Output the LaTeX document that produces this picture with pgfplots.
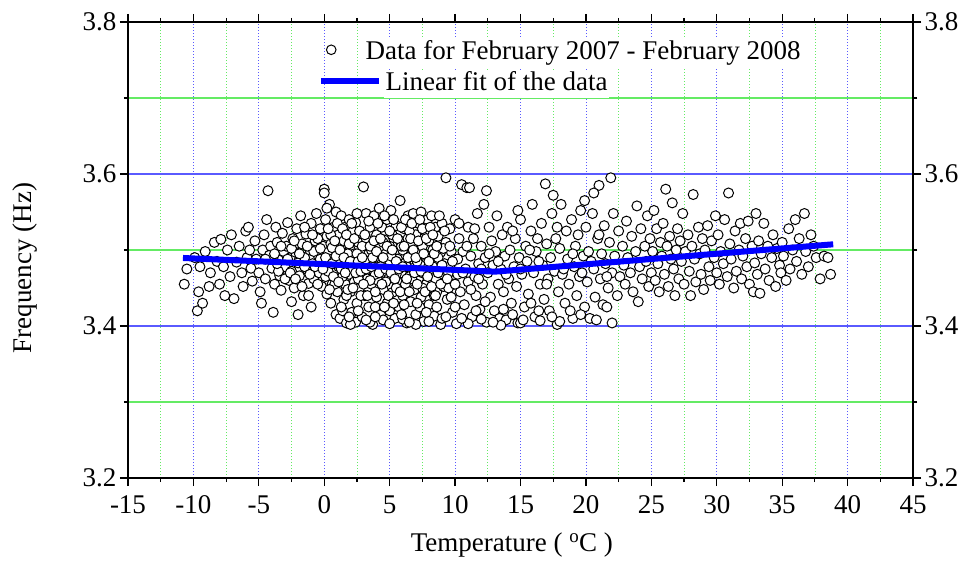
\documentclass[border=0pt]{standalone}
\usepackage{pgfplots}
\pgfplotsset{compat=1.18}
\usepackage{fontspec}
\setmainfont{Liberation Serif}
\definecolor{gridgreen}{RGB}{100,235,100}
\definecolor{gridblue}{RGB}{90,90,255}
\newcommand\bigfont{\fontsize{27bp}{32bp}\selectfont}
\setlength{\fboxsep}{1.5bp}
\pgfplotsset{common/.style={
  scale only axis, width=785bp, height=456bp, at={(0,0)}, anchor=south west,
  xmin=-15,xmax=45,ymin=3.2,ymax=3.8,
  xtick={-15,-10,...,45}, ytick={3.2,3.4,3.6,3.8},
  minor x tick num=1, minor y tick num=1,
  tick align=outside,
  major tick length=8bp, minor tick length=4bp,
  every tick/.style={black, line width=1.2bp},
  axis line style={line width=1.5bp},
  tick label style={font=\bigfont},
  x tick label style={yshift=-6bp},
  /pgf/number format/assume math mode=true,
  y tick label style={/pgf/number format/fixed, /pgf/number format/fixed zerofill, /pgf/number format/precision=1},
}}
\begin{document}
\begin{tikzpicture}
\begin{axis}[common, grid=both, clip mode=individual,
  major x grid style={gridblue, dash pattern=on 1bp off 2bp, line width=0.7bp},
  minor x grid style={gridgreen, dash pattern=on 1bp off 2bp, line width=0.7bp},
  major y grid style={gridblue, line width=1.2bp},
  minor y grid style={gridgreen, line width=1.3bp},
  yticklabel pos=left,
  xlabel={Temperature ( \textsuperscript{o}C )}, ylabel={Frequency (Hz)},
  label style={font=\bigfont},
  xlabel style={at={(axis description cs:0.489,-0.147)}, anchor=center},
  ylabel style={at={(axis description cs:-0.131,0.4605)}, anchor=center},
  legend cell align=left,
  legend style={draw=none, fill=none, at={(axis description cs:0.2421,0.968)}, anchor=north west, font=\bigfont, inner sep=0pt, row sep=5.5bp, column sep=0bp},
]
\addplot[only marks, mark=*, mark size=5bp, mark options={draw=black, fill=white, line width=1bp},
  legend image code/.code={\path[draw=none] (0bp,0bp) -- (58bp,0bp); \draw[black, fill=white, line width=1bp] (10bp,0bp) circle (4.8bp);}]
coordinates {
(-10.7,3.455) (-10.5,3.475) (-9.9,3.490) (-9.7,3.420) (-9.6,3.445) (-9.5,3.478) (-9.3,3.430) (-9.1,3.498) (-8.8,3.452) (-8.7,3.470) (-8.4,3.510) (-8.2,3.485)
(-8.0,3.455) (-7.9,3.514) (-7.7,3.478) (-7.6,3.440) (-7.4,3.500) (-7.2,3.465) (-7.1,3.520) (-6.9,3.436) (-6.7,3.484) (-6.5,3.505) (-6.3,3.470) (-6.2,3.452) (-6.0,3.525) (-5.9,3.490) (-5.8,3.530) (-5.7,3.500) (-5.6,3.476) (-5.5,3.459)
(-5.3,3.512) (-5.2,3.488) (-5.0,3.470) (-4.9,3.445) (-4.8,3.430) (-4.7,3.500) (-4.6,3.520) (-4.5,3.462) (-4.4,3.540) (-4.3,3.578) (-4.2,3.493) (-4.1,3.505) (-4.0,3.476) (-3.9,3.418) (-3.8,3.455) (-3.7,3.530) (-3.6,3.510) (-3.5,3.487)
(-3.4,3.466) (-3.3,3.447) (-3.2,3.522) (-3.1,3.498) (-3.0,3.478) (-2.9,3.505) (-2.8,3.536) (-2.7,3.460) (-2.6,3.490) (-2.5,3.472) (-2.4,3.515) (-2.3,3.450) (-2.2,3.497) (-2.1,3.528) (-2.0,3.415) (-2.0,3.483) (-1.9,3.466) (-1.8,3.545) (-1.7,3.508) (-1.6,3.440) (-1.5,3.490) (-1.4,3.521) (-1.3,3.474) (-1.2,3.456) (-1.1,3.500) (-1.0,3.425) (-1.0,3.535) (-0.9,3.482) (-0.8,3.462) (-0.7,3.512) (-0.6,3.548) (-0.5,3.494) (-0.4,3.470) (-0.3,3.528) (-0.2,3.452) (-0.1,3.505) (0.0,3.580) (0.0,3.575) (0.0,3.486) (0.1,3.465) (0.1,3.540) (0.2,3.518) (0.2,3.442) (0.3,3.497) (0.4,3.560) (0.4,3.478) (0.5,3.430) (0.5,3.508) (0.6,3.455) (0.7,3.530) (0.7,3.489) (0.8,3.470) (0.9,3.415) (0.9,3.550) (1.0,3.501) (1.0,3.445)
(1.1,3.478) (1.1,3.520) (1.2,3.410) (1.2,3.462) (1.3,3.545) (1.3,3.493) (1.4,3.420) (1.4,3.507) (1.5,3.472) (1.5,3.435) (1.6,3.530) (1.6,3.455) (1.7,3.488) (1.7,3.404) (1.8,3.515) (1.9,3.468) (1.9,3.540) (2.0,3.500) (2.0,3.445) (2.1,3.418) (2.1,3.480) (2.2,3.525) (2.3,3.458) (2.3,3.495) (2.4,3.405) (2.4,3.536) (2.5,3.472) (2.5,3.430) (2.6,3.510) (2.7,3.487) (2.7,3.450) (2.8,3.522) (2.9,3.466) (2.9,3.412) (3.0,3.583) (3.0,3.500) (3.1,3.440) (3.1,3.478)
(3.2,3.548) (3.2,3.515) (3.3,3.462) (3.4,3.495) (3.4,3.425) (3.5,3.530) (3.5,3.480) (3.6,3.455) (3.7,3.508) (3.7,3.402) (3.8,3.545) (3.8,3.470) (3.9,3.490) (4.0,3.438) (4.0,3.520) (4.1,3.460) (4.2,3.502) (4.2,3.555) (4.3,3.415) (4.4,3.482) (4.4,3.530) (4.5,3.448) (4.6,3.513) (4.6,3.470) (4.7,3.495) (4.8,3.430) (4.8,3.540) (4.9,3.462) (5.0,3.505) (5.0,3.485)
(5.1,3.552) (5.2,3.444) (5.2,3.520) (5.3,3.475) (5.4,3.410) (5.4,3.498) (5.5,3.532) (5.6,3.458) (5.6,3.488) (5.7,3.425) (5.8,3.512) (5.8,3.565) (5.9,3.470) (6.0,3.440) (6.0,3.500) (6.1,3.528) (6.2,3.455) (6.2,3.483) (6.3,3.404) (6.4,3.545) (6.4,3.515) (6.5,3.465) (6.6,3.492) (6.6,3.432) (6.7,3.508) (6.8,3.548) (6.8,3.476) (6.9,3.448) (7.0,3.520) (7.0,3.415)
(7.1,3.495) (7.2,3.462) (7.2,3.535) (7.3,3.482) (7.4,3.438) (7.4,3.550) (7.5,3.505) (7.6,3.470) (7.6,3.406) (7.7,3.525) (7.8,3.455) (7.8,3.490) (7.9,3.540) (8.0,3.428) (8.0,3.512) (8.1,3.475) (8.2,3.545) (8.3,3.460) (8.3,3.500) (8.4,3.413) (8.5,3.530) (8.5,3.485) (8.6,3.445) (8.7,3.518) (8.8,3.468) (8.9,3.402) (8.9,3.497) (9.0,3.535)
(9.1,3.452) (9.2,3.482) (9.3,3.595) (9.3,3.510) (9.4,3.435) (9.5,3.470) (9.6,3.528) (9.7,3.498) (9.8,3.418) (9.9,3.455) (10.0,3.540) (10.0,3.488) (10.1,3.403) (10.2,3.468) (10.3,3.515) (10.4,3.445) (10.5,3.586) (10.6,3.498) (10.7,3.428) (10.8,3.475) (10.9,3.582) (11.0,3.530) (11.0,3.458) (11.1,3.582)
(11.2,3.492) (11.3,3.412) (11.4,3.515) (11.5,3.465) (11.6,3.440) (11.7,3.548) (11.8,3.482) (11.9,3.422) (12.0,3.505) (12.1,3.455) (12.2,3.560) (12.3,3.490) (12.4,3.405) (12.5,3.470) (12.6,3.530) (12.7,3.438) (12.8,3.512) (12.9,3.480) (13.0,3.420) (13.1,3.498) (13.2,3.545) (13.3,3.455)
(13.4,3.410) (13.5,3.475) (13.6,3.520) (13.7,3.445) (13.8,3.492) (13.9,3.408) (14.0,3.530) (14.1,3.462) (14.2,3.500) (14.3,3.430) (14.5,3.478) (14.6,3.515) (14.7,3.452) (14.8,3.404) (14.9,3.490)
(15.0,3.540) (15.1,3.468) (15.3,3.425) (15.4,3.505) (15.5,3.485) (15.6,3.442) (15.8,3.525) (15.9,3.560) (16.0,3.470) (16.1,3.412) (16.2,3.498) (16.3,3.515) (16.5,3.455) (16.6,3.535) (16.7,3.480) (16.8,3.435) (16.9,3.587) (17.0,3.508) (17.1,3.462) (17.2,3.420)
(17.3,3.490) (17.4,3.548) (17.6,3.472) (17.7,3.515) (17.8,3.402) (17.9,3.445) (18.0,3.502) (18.1,3.560) (18.2,3.468) (18.4,3.430) (18.5,3.525) (18.6,3.488) (18.7,3.455) (18.9,3.540) (19.0,3.410) (19.1,3.478) (19.2,3.505)
(19.3,3.440) (19.4,3.520) (19.5,3.465) (19.6,3.552) (19.8,3.492) (19.9,3.425) (20.0,3.530) (20.1,3.458) (20.2,3.498) (20.3,3.410) (20.5,3.548) (20.6,3.475) (20.7,3.438) (20.9,3.515) (21.0,3.585) (21.1,3.462) (21.2,3.495) (21.3,3.428)
(21.4,3.532) (21.5,3.482) (21.7,3.450) (21.8,3.510) (21.9,3.595) (22.0,3.404) (22.0,3.470) (22.1,3.548) (22.2,3.492) (22.4,3.440) (22.5,3.525) (22.6,3.465) (22.8,3.505) (22.9,3.480) (23.0,3.455) (23.1,3.538)
(23.2,3.490) (23.4,3.470) (23.5,3.518) (23.6,3.445) (23.8,3.498) (23.9,3.558) (24.0,3.432) (24.1,3.478) (24.2,3.528) (24.3,3.462) (24.5,3.505) (24.6,3.485) (24.7,3.545) (24.8,3.452) (24.9,3.515) (25.0,3.470)
(25.1,3.498) (25.2,3.552) (25.3,3.460) (25.4,3.528) (25.5,3.482) (25.6,3.445) (25.7,3.510) (25.8,3.492) (25.9,3.535) (26.0,3.468) (26.1,3.580) (26.2,3.505) (26.3,3.452) (26.4,3.518) (26.5,3.488) (26.6,3.562) (26.7,3.475) (26.8,3.440) (26.9,3.500) (27.0,3.528)
(27.1,3.462) (27.2,3.512) (27.3,3.485) (27.4,3.548) (27.5,3.455) (27.6,3.498) (27.8,3.520) (27.9,3.472) (28.0,3.440) (28.1,3.505) (28.2,3.573) (28.3,3.488) (28.4,3.458) (28.6,3.530) (28.7,3.495) (28.8,3.468) (28.9,3.515) (29.0,3.448)
(29.1,3.500) (29.3,3.532) (29.4,3.478) (29.5,3.460) (29.6,3.512) (29.8,3.490) (29.9,3.545) (30.0,3.470) (30.1,3.520) (30.2,3.455) (30.3,3.498) (30.5,3.482) (30.6,3.540) (30.8,3.465) (30.9,3.575) (31.0,3.508)
(31.1,3.488) (31.3,3.450) (31.4,3.525) (31.5,3.472) (31.7,3.500) (31.8,3.535) (31.9,3.462) (32.0,3.492) (32.2,3.515) (32.3,3.478) (32.4,3.538) (32.5,3.455) (32.7,3.505) (32.8,3.445) (32.9,3.483) (33.0,3.548)
(33.1,3.468) (33.2,3.512) (33.3,3.443) (33.4,3.495) (33.6,3.535) (33.7,3.475) (33.9,3.505) (34.0,3.460) (34.2,3.490) (34.3,3.520) (34.5,3.452) (34.6,3.502) (34.8,3.480) (34.9,3.470) (35.0,3.510)
(35.1,3.492) (35.3,3.460) (35.5,3.528) (35.6,3.475) (35.8,3.500) (36.0,3.540) (36.1,3.485) (36.3,3.515) (36.5,3.468) (36.7,3.548) (36.8,3.498) (37.0,3.478) (37.2,3.520) (37.4,3.505) (37.6,3.490) (37.9,3.462) (38.2,3.492) (38.5,3.490) (38.7,3.468)
(2.0,3.402) (3.5,3.405) (4.5,3.408) (5.0,3.403) (6.0,3.409) (7.0,3.402) (8.0,3.406) (9.0,3.410) (11.0,3.403) (12.0,3.409) (13.5,3.401) (15.0,3.404) (16.5,3.407) (18.0,3.406)
(-1.5,3.478) (-0.8,3.498) (-0.3,3.488) (0.3,3.472) (0.6,3.503) (1.0,3.482) (1.4,3.465) (1.8,3.495) (2.2,3.475) (2.6,3.462) (2.9,3.505) (3.3,3.485) (3.6,3.500) (3.9,3.468) (4.3,3.478) (4.7,3.458) (5.1,3.492) (5.5,3.468) (5.9,3.505) (6.3,3.478) (6.7,3.462) (7.1,3.485) (7.5,3.470) (7.9,3.492) (8.3,3.478) (8.7,3.490) (9.1,3.502) (9.6,3.478) (10.2,3.488)
(0.5,3.520) (1.5,3.512) (2.5,3.495) (3.5,3.460) (4.5,3.510) (5.5,3.450) (6.5,3.525) (7.5,3.450) (8.5,3.462) (9.5,3.450) (-2.5,3.502) (-3.5,3.472) (-4.5,3.488) (-0.5,3.515) (0.8,3.455) (1.7,3.440) (2.8,3.440) (3.9,3.425) (5.0,3.420) (6.1,3.428) (7.3,3.425) (8.4,3.440) (9.7,3.438) (-1.2,3.440) (-2.5,3.432)
(-3.8,3.495) (-3.6,3.482) (-3.3,3.505) (-3.0,3.462) (-2.8,3.488) (-2.6,3.470) (-2.3,3.512) (-2.2,3.462) (-1.9,3.495) (-1.7,3.452) (-1.5,3.530) (-1.3,3.505) (-1.1,3.468) (-0.9,3.520) (-0.7,3.478) (-0.5,3.455) (-0.3,3.502) (-0.1,3.475) (0.1,3.490) (0.2,3.555) (0.3,3.528) (0.4,3.448) (0.6,3.482) (0.7,3.465) (0.8,3.512) (0.9,3.492) (1.0,3.535) (1.1,3.458) (1.2,3.500) (1.3,3.475) (1.4,3.528) (1.5,3.490) (1.6,3.470) (1.7,3.520) (1.8,3.448) (1.9,3.508) (2.0,3.485) (2.1,3.535) (2.2,3.450) (2.3,3.515) (2.4,3.470) (2.5,3.548) (2.6,3.485) (2.7,3.525) (2.8,3.472) (2.9,3.490) (3.0,3.455) (3.1,3.520) (3.2,3.475) (3.3,3.440)
(3.4,3.538) (3.5,3.505) (3.6,3.478) (3.7,3.490) (3.8,3.512) (3.9,3.445) (4.0,3.498) (4.1,3.535) (4.2,3.470) (4.3,3.515) (4.4,3.455) (4.5,3.490) (4.6,3.545) (4.7,3.475) (4.8,3.505) (4.9,3.440) (5.0,3.525) (5.1,3.470) (5.2,3.500) (5.3,3.540) (5.4,3.462) (5.5,3.485) (5.6,3.515) (5.7,3.475) (5.8,3.445) (5.9,3.530) (6.0,3.478) (6.1,3.505) (6.2,3.540) (6.3,3.462) (6.4,3.490) (6.5,3.445) (6.6,3.515) (6.7,3.535) (6.8,3.500) (6.9,3.470) (7.0,3.490) (7.1,3.455) (7.2,3.512) (7.3,3.540) (7.4,3.472) (7.5,3.528) (7.6,3.495) (7.7,3.445) (7.8,3.515) (7.9,3.465)
(8.0,3.485) (8.1,3.530) (8.2,3.452) (8.3,3.520) (8.4,3.495) (8.5,3.440) (8.6,3.505) (8.7,3.470) (8.8,3.545) (8.9,3.455) (9.0,3.480) (9.2,3.525) (9.4,3.462) (9.6,3.505) (9.8,3.485) (10.0,3.455) (10.3,3.535) (10.6,3.470) (10.9,3.505) (11.2,3.448) (11.5,3.528) (11.8,3.462)
(1.3,3.425) (1.9,3.412) (2.6,3.420) (3.2,3.408) (3.9,3.412) (4.6,3.425) (5.3,3.430) (5.9,3.415) (6.5,3.405) (7.1,3.430) (7.8,3.418) (8.6,3.425) (9.3,3.412) (10.0,3.425) (10.5,3.410) (11.6,3.420) (12.3,3.432) (12.9,3.405) (13.7,3.422) (14.4,3.415) (15.2,3.408) (15.8,3.430) (16.4,3.420) (17.4,3.412) (18.8,3.420) (19.6,3.415) (20.8,3.408) (21.6,3.425)
(12.0,3.475) (12.6,3.495) (13.3,3.485) (13.9,3.468) (14.4,3.525) (15.0,3.475) (15.7,3.500) (16.4,3.485) (17.0,3.455) (17.8,3.530) (18.3,3.475) (19.0,3.495) (19.7,3.470) (20.4,3.485) (21.0,3.520) (21.6,3.465)
(12.4,3.578) (14.8,3.552) (17.5,3.572) (19.9,3.565) (20.6,3.575)
};
\addlegendentry{\hspace*{-20bp}\colorbox{white}{\vphantom{Ay}Data for February 2007 - February 2008}}
\addplot[blue, line width=6bp, legend image code/.code={\draw[blue, line width=6bp] (0bp,0bp) -- (58bp,0bp);}]
coordinates {(-10.8,3.4895) (13.06,3.4715) (38.9,3.5075)};
\addlegendentry{\colorbox{white}{\vphantom{Ay}Linear fit of the data}}
\end{axis}
\begin{axis}[common, axis x line=none, axis y line*=right, tick align=outside,
  ytick pos=right, yticklabel pos=right]
\end{axis}
\pgfresetboundingbox
\path (-128bp,-83bp) rectangle (839bp,478bp);
\end{tikzpicture}
\end{document}
